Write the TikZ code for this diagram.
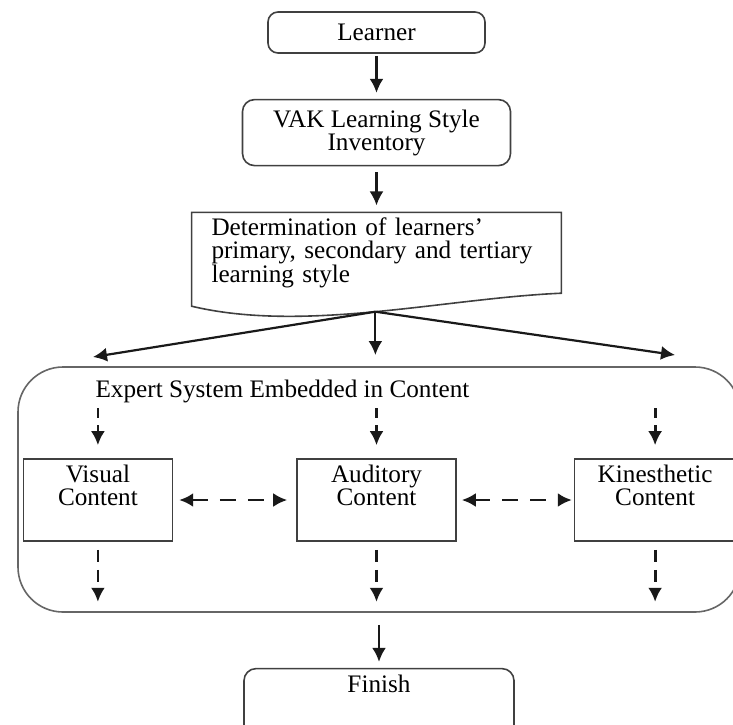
\documentclass[tikz,border=0pt]{standalone}
\usepackage{fontspec}
\setmainfont{Liberation Serif}
\usetikzlibrary{positioning,arrows.meta}

\begin{document}
\begin{tikzpicture}[
	font=\fontsize{12.6pt}{11.6pt}\selectfont,
	>={Latex[length=7pt,width=7pt]},
	rbox/.style={rectangle, rounded corners=5pt, draw=black!75, line width=0.8pt, align=center},
	cbox/.style={rectangle, draw=black!75, line width=0.8pt, minimum width=79.5pt, minimum height=41pt},
	docbox/.style={rectangle, text width=165pt, inner xsep=9.75pt, inner ysep=2pt, minimum height=40pt, align=left},
	frame/.style={rectangle, rounded corners=22.5pt, draw=black!60, line width=0.8pt, minimum width=361pt, minimum height=122.5pt},
	boxtext/.style={anchor=north, align=center},
	link/.style={->, line width=1.1pt, black!90},
	dashlink/.style={->, line width=1.4pt, black!90, dash pattern=on 5pt off 3.5pt}
]
\useasboundingbox (0,0) rectangle (366.5pt,-362pt);
\node[rbox, minimum width=108.5pt, minimum height=20.5pt] (learner) at (188.25pt,-16.25pt) {Learner};
\node[rbox, minimum width=134pt, minimum height=33pt, rounded corners=6pt] (vak) [below=22.5pt of learner] {VAK Learning Style\\Inventory};
\node[docbox] (det) [below=23pt of vak] {Determination of learners'\\primary, secondary and tertiary\\learning style};
\draw[draw=black!75, line width=0.8pt] (det.south east) .. controls ([xshift=-58pt,yshift=-2.5pt]det.south east) and ([xshift=56.5pt,yshift=-20pt]det.south west) .. ([yshift=-6.5pt]det.south west) coordinate[pos=0.5] (split) -- (det.north west) -- (det.north east) -- cycle;

\node[cbox, label={[boxtext]north:Auditory\\Content}] (auditory) [below=82.5pt of det] {};
\node[cbox, minimum width=74.5pt, label={[boxtext]north:Visual\\Content}] (visual) [left=61.5pt of auditory] {};
\node[cbox, minimum width=80.5pt, label={[boxtext]north:Kinesthetic\\Content}] (kines) [right=58.5pt of auditory] {};
\node[frame] (expert) at ([xshift=1.25pt,yshift=5.25pt]auditory.center) {};
\node[anchor=west, inner sep=0pt] (esys) at ([xshift=39pt,yshift=-12.5pt]expert.north west) {Expert System Embedded in Content};
\node[rbox, minimum width=135pt, minimum height=40pt, rounded corners=6pt, label={[boxtext]north:Finish}] (finish) [below=27.5pt of expert] {};

\coordinate (toleft) at (46.5pt,-178.5pt);
\coordinate (tomid) at (split |- 0,-177.5pt);
\coordinate (toright) at (337.5pt,-177.5pt);

\draw[link, shorten <=1pt, shorten >=3pt] (learner) -- (vak);
\draw[link, shorten <=3pt, shorten >=3.5pt] (vak) -- (det);
\draw[link] (split) -- (toleft);
\draw[link] (split) -- (tomid);
\draw[link] (split) -- (toright);
\draw[link, shorten <=6pt, shorten >=3pt] (expert) -- (finish);

\foreach \b in {visual,auditory,kines} {
	\draw[dashlink] ([yshift=25pt]\b.north) -- ([yshift=6.5pt]\b.north);
	\draw[dashlink, dash pattern=on 6pt off 4pt] ([yshift=-4pt]\b.south) -- ([yshift=-30pt]\b.south);
}
\draw[dashlink, <->, dash pattern=on 8pt off 6pt, shorten <=3pt, shorten >=4.5pt] (visual) -- (auditory);
\draw[dashlink, <->, dash pattern=on 8pt off 6pt, shorten <=2.5pt, shorten >=1pt] (auditory) -- (kines);
\end{tikzpicture}
\end{document}
